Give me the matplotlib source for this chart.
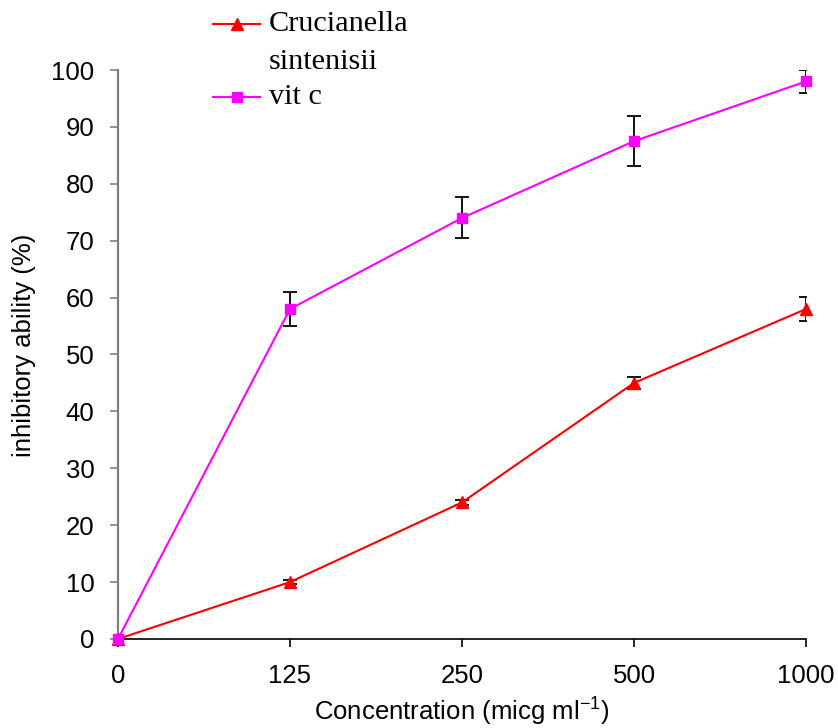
import matplotlib.pyplot as plt
from matplotlib.lines import Line2D
import numpy as np

# data
conc_labels = ["0", "125", "250", "500", "1000"]
cruc_vals = [0, 10, 24, 45, 58]
cruc_err = [0, 0.3, 0.5, 1.0, 2.1]
vitc_vals = [0, 58, 74, 87.5, 98]
vitc_err = [0, 3.0, 3.6, 4.4, 2.0]

plt.rcParams["mathtext.fontset"] = "custom"
plt.rcParams["mathtext.rm"] = "Liberation Sans"

x = np.arange(len(conc_labels))

fig = plt.figure(figsize=(8.38, 7.28), dpi=100)
ax = fig.add_axes([0.1408, 0.1223, 0.8210, 0.7815])

# error bars first, then lines + markers on top
ax.errorbar(x, cruc_vals, yerr=cruc_err, fmt="none", ecolor="black",
            elinewidth=1.3, capsize=5, capthick=1.3, zorder=2)
ax.errorbar(x, vitc_vals, yerr=vitc_err, fmt="none", ecolor="black",
            elinewidth=1.3, capsize=5, capthick=1.3, zorder=2)
ax.plot(x, cruc_vals, color="#ff0000", lw=1.5, marker="^", ms=8.5,
        mec="#ff0000", mfc="#ff0000", zorder=3, clip_on=False)
ax.plot(x, vitc_vals, color="#ff00ff", lw=1.5, marker="s", ms=7.5,
        mec="#ff00ff", mfc="#ff00ff", zorder=4, clip_on=False)

ax.set_xlim(0, 4)
ax.set_ylim(0, 100)
ax.set_xticks(x)
ax.set_xticklabels(conc_labels)
ax.set_yticks(np.arange(0, 101, 10))

for s in ["top", "right"]:
    ax.spines[s].set_visible(False)
ax.spines["left"].set_color("#808080")
ax.spines["left"].set_linewidth(1.6)
ax.spines["bottom"].set_color("black")
ax.spines["bottom"].set_linewidth(1.2)
ax.tick_params(axis="y", direction="out", length=6, width=1.2,
               color="#808080", labelsize=18.5, pad=11)
ax.tick_params(axis="x", direction="out", length=6, width=1.2,
               color="black", labelsize=18.5, pad=12)
for lab in ax.get_xticklabels() + ax.get_yticklabels():
    lab.set_fontfamily("Liberation Sans")

ax.set_ylabel("inhibitory ability (%)", fontsize=18.5, family="Liberation Sans",
              va="center", ha="center")
ax.set_xlabel("Concentration (micg ml$^{-1}$)", fontsize=18.5,
              family="Liberation Sans", va="center", ha="center")
ax.yaxis.set_label_coords(-0.1366, 0.517)
ax.xaxis.set_label_coords(0.5, -0.1265)

# legend, drawn by hand (label wraps over two lines)
W, H = 838, 728
def fx(px):
    return px / W
def fy(py):
    return 1 - py / H

fig.add_artist(Line2D([fx(213), fx(260)], [fy(24), fy(24)], color="#ff0000",
                      lw=1.5))
fig.add_artist(Line2D([fx(237)], [fy(24)], color="#ff0000", marker="^",
                      ms=8.5, lw=0))
fig.add_artist(Line2D([fx(213), fx(260)], [fy(97), fy(97)], color="#ff00ff",
                      lw=1.5))
fig.add_artist(Line2D([fx(237)], [fy(97)], color="#ff00ff", marker="s",
                      ms=7.5, lw=0))
for txt, py in [("Crucianella", 24), ("sintenisii", 62), ("vit c", 97)]:
    fig.text(fx(269), fy(py), txt, fontsize=21.8, family="Liberation Serif",
             va="center", ha="left")

fig.savefig("out.png", dpi=100)
